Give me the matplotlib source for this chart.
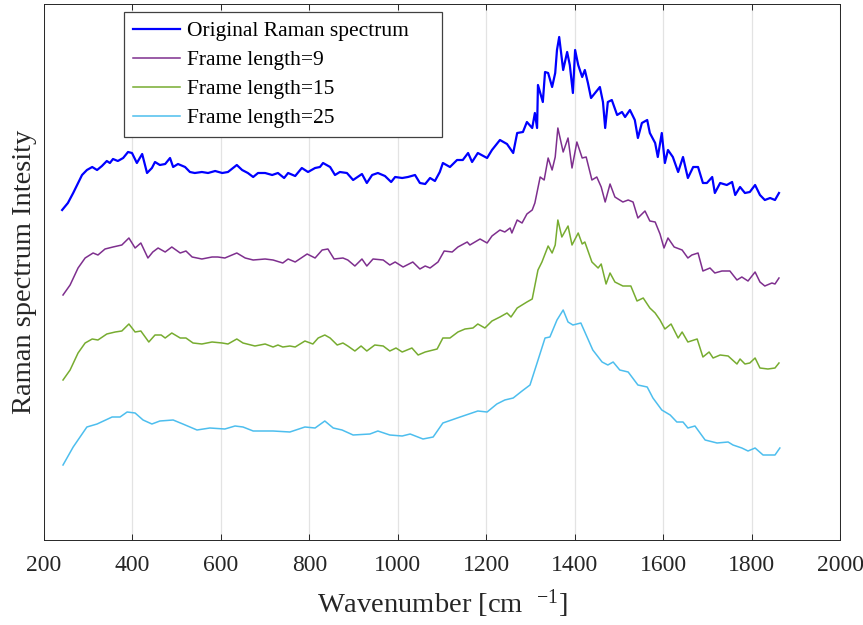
import numpy as np
import matplotlib
matplotlib.use("Agg")
import matplotlib.pyplot as plt

plt.rcParams['font.family'] = ['Liberation Serif', 'DejaVu Serif']
plt.rcParams['mathtext.fontset'] = 'custom'
plt.rcParams['mathtext.rm'] = 'Liberation Serif'
plt.rcParams['mathtext.it'] = 'Liberation Serif:italic'

# original (noisy) spectrum, offset on top
wn_orig = [241, 254, 266, 277, 286, 297, 309, 320, 331, 342, 349, 356, 367, 379, 390, 399,
           410, 422, 433, 444, 451, 462, 474, 485, 492, 503, 519, 530, 541, 557, 571, 587,
           603, 616, 636, 648, 661, 673, 684, 700, 716, 729, 743, 752, 768, 783, 797, 813,
           824, 831, 847, 858, 869, 885, 899, 919, 930, 942, 955, 971, 985, 994, 1010, 1023,
           1039, 1050, 1062, 1073, 1084, 1095, 1102, 1118, 1134, 1147, 1159, 1168, 1181, 1202,
           1213, 1231, 1247, 1261, 1270, 1283, 1292, 1304, 1310, 1315, 1317, 1328, 1333, 1340,
           1349, 1356, 1360, 1365, 1374, 1383, 1389, 1396, 1401, 1408, 1417, 1423, 1430, 1437,
           1446, 1457, 1464, 1469, 1475, 1484, 1496, 1507, 1514, 1525, 1536, 1543, 1552, 1564,
           1570, 1582, 1588, 1597, 1604, 1611, 1622, 1634, 1645, 1656, 1668, 1679, 1690, 1699,
           1711, 1717, 1729, 1744, 1756, 1763, 1774, 1785, 1796, 1808, 1819, 1830, 1842, 1853,
           1862]
int_orig = [330, 337, 347, 357, 365, 370, 373, 370, 374, 379, 377, 381, 379, 382, 388, 387,
            377, 386, 367, 372, 378, 375, 376, 382, 373, 376, 373, 368, 367, 368, 367, 369,
            367, 368, 375, 370, 367, 363, 367, 367, 365, 367, 362, 367, 364, 372, 368, 372,
            373, 377, 373, 365, 368, 367, 360, 366, 357, 365, 367, 364, 358, 363, 362, 363,
            365, 357, 356, 362, 359, 368, 377, 373, 380, 380, 387, 378, 387, 382,
            390, 400, 396, 387, 407, 408, 418, 412, 427, 412, 455, 438, 468, 467,
            453, 467, 490, 503, 470, 488, 475, 447, 490, 475, 463, 470, 457, 442,
            447, 453, 438, 412, 438, 440, 425, 428, 423, 430, 420, 402, 417, 420,
            407, 397, 383, 407, 377, 390, 383, 368, 383, 362, 373, 373, 357, 357,
            363, 347, 357, 355, 358, 345, 353, 347, 348, 355, 345, 340, 342, 340,
            347]

# Savitzky-Golay, frame length 9
wn_f9 = [243, 259, 277, 293, 311, 322, 338, 356, 376, 392, 406, 419, 435, 446, 458, 474,
         489, 508, 521, 535, 557, 580, 593, 609, 636, 655, 673, 700, 718, 740, 752, 768,
         795, 813, 829, 842, 856, 876, 887, 903, 919, 930, 944, 967, 982, 994, 1012, 1034,
         1050, 1062, 1073, 1091, 1105, 1123, 1136, 1157, 1163, 1186, 1202, 1213, 1231, 1242,
         1254, 1258, 1270, 1281, 1292, 1304, 1310, 1322, 1331, 1340, 1349, 1356, 1362, 1374,
         1385, 1394, 1405, 1417, 1426, 1439, 1450, 1460, 1469, 1480, 1491, 1509, 1521, 1532,
         1543, 1559, 1570, 1582, 1593, 1602, 1611, 1625, 1643, 1656, 1665, 1679, 1690, 1706,
         1717, 1733, 1751, 1767, 1778, 1792, 1808, 1819, 1830, 1846, 1853, 1862]
int_f9 = [245, 255, 272, 282, 287, 285, 291, 293, 295, 302, 292, 297, 282, 288, 292, 288,
          293, 287, 289, 283, 281, 283, 283, 282, 287, 282, 280, 281, 280, 277, 281, 278,
          286, 282, 290, 291, 281, 282, 280, 274, 281, 274, 281, 280, 275, 278, 273, 278,
          271, 274, 272, 278, 289, 288, 293, 298, 295, 301, 297, 304, 310, 308,
          312, 307, 320, 317, 326, 330, 337, 363, 360, 382, 370, 383, 412, 388,
          402, 372, 398, 382, 383, 360, 363, 353, 338, 356, 343, 338, 340, 338,
          322, 329, 319, 318, 306, 292, 302, 293, 290, 282, 285, 287, 269, 272,
          267, 269, 269, 260, 263, 259, 268, 258, 254, 257, 256, 262]

# Savitzky-Golay, frame length 15
wn_f15 = [243, 259, 277, 293, 309, 322, 342, 361, 376, 392, 406, 419, 437, 451, 465, 474,
          489, 508, 521, 537, 557, 580, 603, 616, 636, 650, 677, 700, 718, 729, 740, 756,
          768, 790, 808, 820, 835, 847, 863, 876, 887, 903, 917, 930, 948, 967, 982, 996,
          1010, 1032, 1046, 1062, 1089, 1102, 1118, 1136, 1152, 1170, 1181, 1197, 1213, 1231,
          1247, 1256, 1270, 1281, 1292, 1304, 1317, 1326, 1340, 1349, 1356, 1362, 1371, 1385,
          1394, 1408, 1417, 1423, 1439, 1453, 1460, 1471, 1480, 1491, 1509, 1527, 1541, 1555,
          1570, 1582, 1593, 1604, 1618, 1634, 1643, 1656, 1677, 1690, 1704, 1713, 1729, 1747,
          1767, 1774, 1785, 1796, 1808, 1819, 1837, 1853, 1862]
int_f15 = [160, 170, 187, 197, 201, 200, 206, 208, 209, 216, 208, 209, 198, 205, 205, 202,
           207, 202, 202, 197, 196, 198, 197, 196, 201, 197, 194, 196, 193, 195, 193, 194,
           193, 199, 196, 202, 205, 202, 195, 197, 194, 189, 194, 189, 195, 194, 189, 192,
           188, 192, 185, 188, 191, 202, 202, 208, 211, 212, 216, 212, 219, 223,
           227, 223, 232, 235, 238, 241, 270, 278, 294, 287, 295, 320, 303, 314,
           295, 307, 296, 298, 278, 272, 276, 256, 267, 258, 254, 254, 239, 242,
           232, 227, 220, 211, 216, 202, 208, 198, 201, 183, 188, 182, 185, 184,
           176, 181, 176, 177, 182, 172, 171, 172, 177]

# Savitzky-Golay, frame length 25
wn_f25 = [243, 266, 297, 320, 354, 372, 388, 406, 424, 444, 462, 492, 514, 546, 575, 609,
          632, 650, 673, 718, 756, 790, 813, 835, 854, 874, 899, 937, 955, 982, 1010, 1028,
          1057, 1080, 1102, 1141, 1181, 1202, 1224, 1242, 1261, 1281, 1299, 1315, 1333, 1344,
          1360, 1374, 1385, 1396, 1414, 1428, 1441, 1462, 1475, 1487, 1502, 1521, 1543, 1564,
          1577, 1597, 1616, 1631, 1645, 1656, 1672, 1695, 1722, 1747, 1758, 1778, 1792, 1808,
          1826, 1853, 1864]
int_f25 = [75, 93, 113, 116, 123, 123, 128, 127, 120, 116, 119, 120, 116, 110, 112, 111,
           114, 113, 109, 109, 108, 113, 112, 119, 112, 110, 105, 106, 109, 105, 104, 106,
           101, 103, 117, 123, 129, 128, 136, 140, 142, 149, 155, 177, 202, 203,
           220, 230, 218, 215, 217, 203, 190, 178, 175, 178, 170, 168, 155, 153,
           142, 130, 125, 118, 118, 112, 114, 100, 97, 98, 95, 92, 89, 92,
           85, 85, 92]

series = [
    (wn_orig, int_orig, 'Original Raman spectrum', '#0000FF', 1.6),
    (wn_f9, int_f9, 'Frame length=9', '#7E2F8E', 1.1),
    (wn_f15, int_f15, 'Frame length=15', '#77AC30', 1.1),
    (wn_f25, int_f25, 'Frame length=25', '#4DBEEE', 1.1),
]

fig = plt.figure(figsize=(8.63, 6.25), dpi=100)
ax = fig.add_axes([44 / 863, 85 / 625, 796 / 863, 536 / 625])

for wn, inten, label, color, lw in series:
    ax.plot(wn, inten, color=color, lw=lw, label=label)

ax.set_xlim(200, 2000)
ax.set_ylim(0, 536)
ax.set_xticks(np.arange(200, 2001, 200))
ax.set_yticks([])
ax.grid(axis='x', color='#e3e3e3', lw=0.9)
ax.set_axisbelow(True)
ax.tick_params(axis='x', direction='in', length=4, width=0.7, top=True,
               labelsize=17, pad=11, colors='#262626')
for s in ax.spines.values():
    s.set_color('#262626')
    s.set_linewidth(0.7)

ax.set_xlabel('Wavenumber [cm  $^{-1}$]', fontsize=20.5, color='#262626', labelpad=8)
ax.set_ylabel('Raman spectrum Intesity', fontsize=20.5, color='#262626', labelpad=5)

leg = ax.legend(loc='upper left', bbox_to_anchor=(80 / 796, 0.5, 318 / 796, 528 / 536 - 0.5),
                mode='expand', borderaxespad=0,
                fontsize=15.5, handlelength=2.2, handletextpad=0.3, labelspacing=0.42,
                borderpad=0.42, fancybox=False, framealpha=1)
leg.get_frame().set_edgecolor('#404040')
leg.get_frame().set_linewidth(0.9)

fig.savefig('out.png', dpi=100)
